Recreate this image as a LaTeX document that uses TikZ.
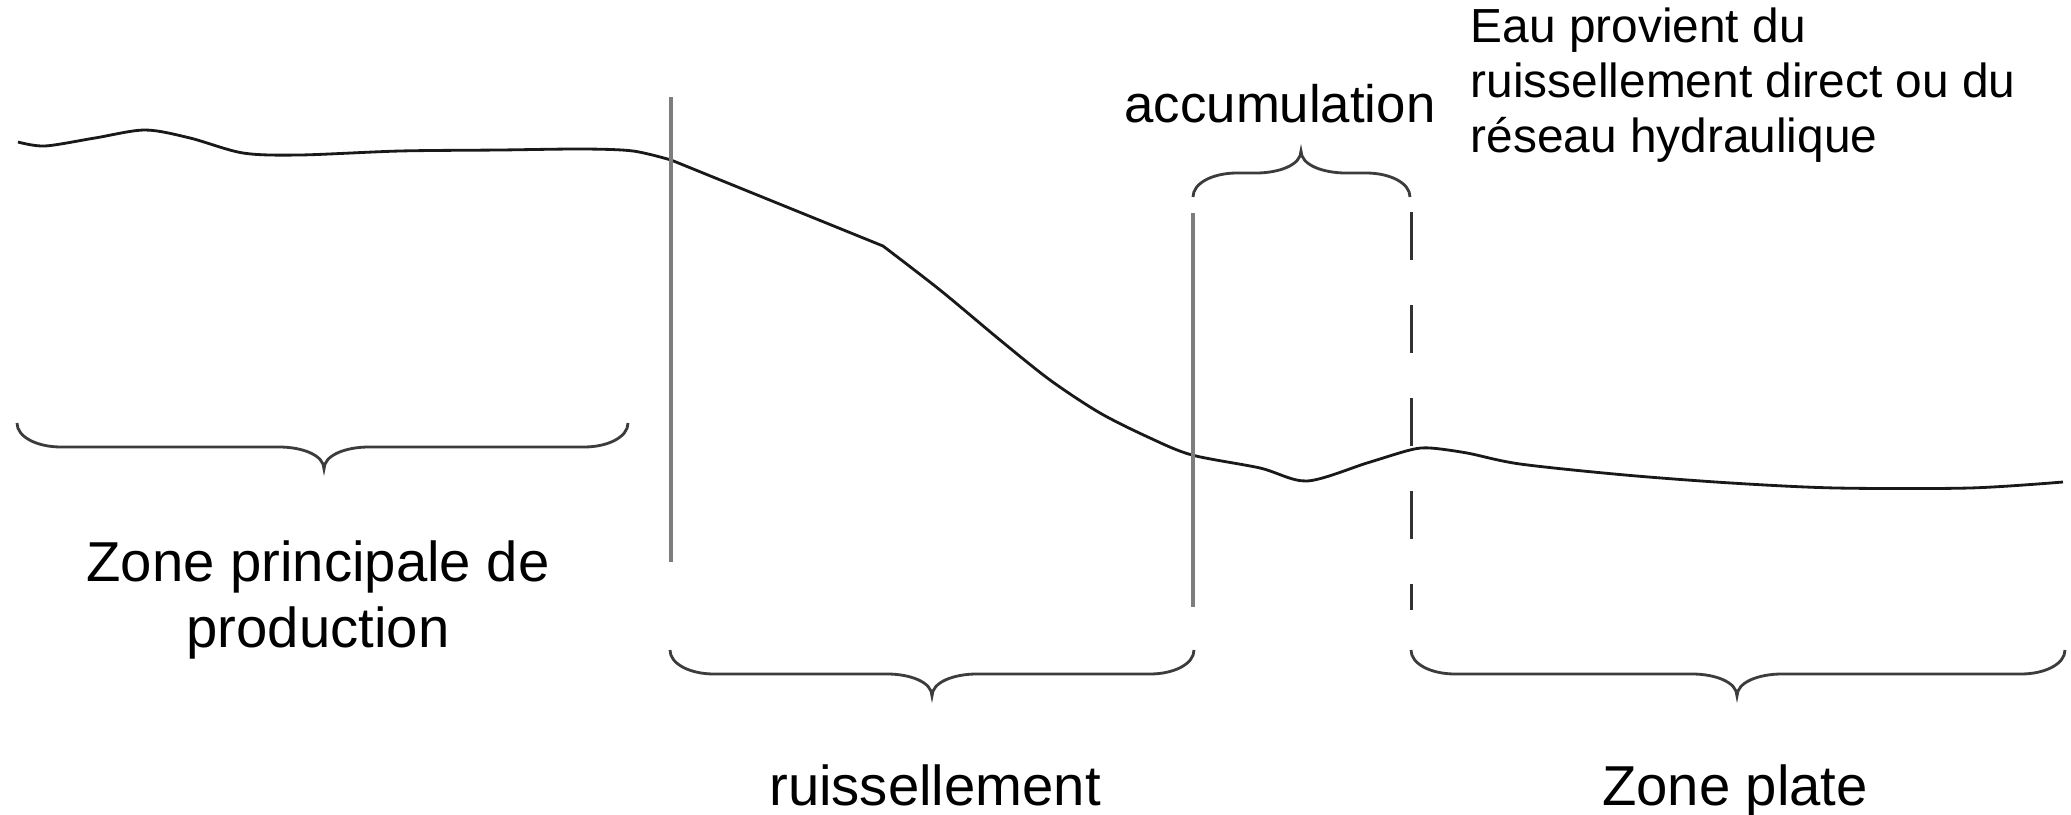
\documentclass[tikz,border=0pt]{standalone}
\usepackage{fontspec}
\setmainfont{Liberation Sans}
\begin{document}
\begin{tikzpicture}[x=0.01cm,y=-0.01cm,
  curve/.style={line width=0.8pt,draw={rgb,255:red,25;green,25;blue,25},line join=round},
  vline/.style={line width=0.9pt,draw={rgb,255:red,125;green,125;blue,125}},
  dline/.style={line width=0.85pt,draw={rgb,255:red,50;green,50;blue,50},dash pattern=on 0.48cm off 0.45cm},
  bracestyle/.style={line width=0.8pt,draw={rgb,255:red,60;green,60;blue,60}},
  lab/.style={inner sep=0pt,font=\fontsize{16}{18.8}\selectfont,align=center},
  note/.style={inner sep=0pt,font=\fontsize{13.6}{15.6}\selectfont,align=left}]
\newcommand{\hbrace}[5]{%
 \draw[bracestyle] (#1,#3) .. controls (#1,{#3+#4*14}) and ({#1+20},{#3+#4*24}) .. ({#1+44},{#3+#4*24})
   -- ({#5-45},{#3+#4*24}) .. controls ({#5-22},{#3+#4*24}) and (#5,{#3+#4*32}) .. (#5,{#3+#4*46})
   .. controls (#5,{#3+#4*32}) and ({#5+22},{#3+#4*24}) .. ({#5+45},{#3+#4*24})
   -- ({#2-44},{#3+#4*24}) .. controls ({#2-20},{#3+#4*24}) and (#2,{#3+#4*14}) .. (#2,#3);}
\useasboundingbox[fill=white] (0,0) rectangle (2071,815);
% terrain profile
\draw[curve] plot[smooth,tension=0.5] coordinates {(18,142) (45,146) (95,138) (145,130) (190,138) (243,153) (300,155) (400,151) (500,150) (583,149) (633,151) (671,160)}
  -- (883,246)
  -- plot[smooth,tension=0.5] coordinates {(883,246) (940,290) (1000,340) (1050,380) (1100,413) (1150,438) (1192,455) (1260,468) (1307,481) (1367,463) (1410,450) (1430,448) (1467,453) (1520,464) (1625,475) (1731,483) (1836,488) (1970,488) (2063,482)};
% boundaries
\coordinate (v1t) at (671,97);  \coordinate (v1b) at (671,562);
\coordinate (v2t) at (1193,213); \coordinate (v2b) at (1193,607);
\coordinate (v3t) at (1411,212); \coordinate (v3b) at (1411,610);
\draw[vline] (v1t) -- (v1b);
\draw[vline] (v2t) -- (v2b);
\draw[dline] (v3t) -- (v3b);
% braces
\hbrace{17}{628}{423}{1}{324}
\hbrace{670}{1194}{650}{1}{932}
\hbrace{1411}{2065}{650}{1}{1737}
\hbrace{1193}{1410}{197}{-1}{1301}
% labels
\node[lab,anchor=base,font=\fontsize{15}{18}\selectfont] (acc) at (1280,122) {accumulation};
\node[lab,anchor=north] (zpp) at (318,540) {Zone principale de\\production};
\node[lab,anchor=base] (ruis) at (935,805) {ruissellement};
\node[lab,anchor=base] (zpl) at (1735,805) {Zone plate};
\node[note,anchor=north west] (eau) at (1470,7) {Eau provient du\\ruissellement direct ou du\\réseau hydraulique};
\end{tikzpicture}
\end{document}
